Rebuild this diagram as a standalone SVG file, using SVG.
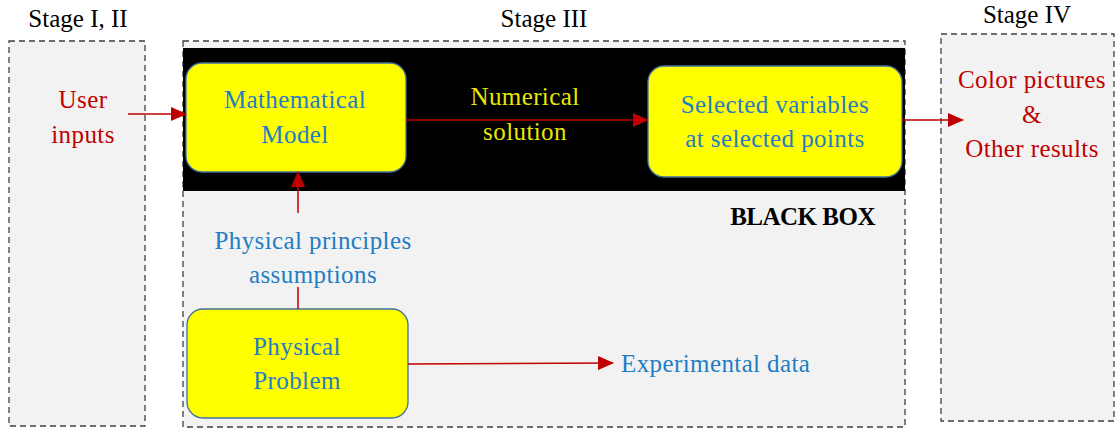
<svg xmlns="http://www.w3.org/2000/svg" width="1119" height="430" viewBox="0 0 1119 430" font-family="'Liberation Serif', 'Times New Roman', serif">
<defs>
<style>
.stage{fill:#F2F2F2;stroke:#404040;stroke-width:1.3;stroke-dasharray:6 4}
.node{fill:#FFFF00;stroke:#41719C;stroke-width:1.3}
text{font-family:"Liberation Serif","Times New Roman",serif;font-size:25px}
.title{fill:#000}
.red{fill:#C00000;letter-spacing:0.4px}
.blue{fill:#1F7DC4;letter-spacing:0.4px}
.yel{fill:#E8E800;letter-spacing:0.4px}
.conn{stroke:#C00000;stroke-width:1.5;fill:none}
</style>
<marker id="ahL" markerWidth="16" markerHeight="14" refX="15" refY="7" orient="auto" markerUnits="userSpaceOnUse" viewBox="0 0 16 14">
<path d="M0,0 L16,7 L0,14 Z" fill="#C00000"/>
</marker>
</defs>
<rect width="1119" height="430" fill="#fff"/>
<g id="stage12">
<rect class="stage" x="9" y="41" width="136" height="385"/>
<text class="title" x="78" y="27" text-anchor="middle">Stage I, II</text>
<text class="red" x="83" y="108" text-anchor="middle">User</text>
<text class="red" x="83" y="143" text-anchor="middle">inputs</text>
</g>
<g id="stage3">
<rect class="stage" x="183" y="41" width="722" height="386"/>
<rect x="183" y="48" width="722" height="143" fill="#000"/>
<text class="title" x="544" y="27" text-anchor="middle">Stage III</text>
<text x="875" y="225" text-anchor="end" font-weight="bold" fill="#000" letter-spacing="-0.5">BLACK BOX</text>
</g>
<g id="stage4">
<rect class="stage" x="941" y="34" width="173" height="387"/>
<text class="title" x="1027" y="23" text-anchor="middle">Stage IV</text>
<text class="red" x="1032" y="88" text-anchor="middle">Color pictures</text>
<text class="red" x="1032" y="123" text-anchor="middle">&amp;</text>
<text class="red" x="1032" y="157" text-anchor="middle">Other results</text>
</g>
<g id="math-model">
<rect class="node" x="186" y="63" width="220" height="109" rx="16"/>
<text class="blue" x="295" y="108" text-anchor="middle">Mathematical</text>
<text class="blue" x="295" y="143" text-anchor="middle">Model</text>
</g>
<g id="selected">
<rect class="node" x="648" y="66" width="254" height="111" rx="16"/>
<text class="blue" x="775" y="113" text-anchor="middle">Selected variables</text>
<text class="blue" x="775" y="147" text-anchor="middle">at selected points</text>
</g>
<g id="physical-problem">
<rect class="node" x="187" y="309" width="221" height="109" rx="16"/>
<text class="blue" x="297" y="355" text-anchor="middle">Physical</text>
<text class="blue" x="297" y="389" text-anchor="middle">Problem</text>
</g>
<g id="labels">
<text class="yel" x="525" y="105" text-anchor="middle">Numerical</text>
<text class="yel" x="525" y="140" text-anchor="middle">solution</text>
<text class="blue" x="313" y="249" text-anchor="middle">Physical principles</text>
<text class="blue" x="313" y="283" text-anchor="middle">assumptions</text>
<text class="blue" x="621" y="372">Experimental data</text>
</g>
<g id="connectors">
<line class="conn" x1="128" y1="114" x2="186" y2="114" marker-end="url(#ahL)"/>
<line class="conn" x1="406" y1="120" x2="648" y2="120" marker-end="url(#ahL)"/>
<line class="conn" x1="902" y1="120" x2="963" y2="120" marker-end="url(#ahL)"/>
<line class="conn" x1="298" y1="213" x2="298" y2="172" marker-end="url(#ahL)"/>
<line class="conn" x1="298" y1="309" x2="298" y2="287"/>
<line class="conn" x1="408" y1="364" x2="613" y2="363" marker-end="url(#ahL)"/>
</g>
</svg>
